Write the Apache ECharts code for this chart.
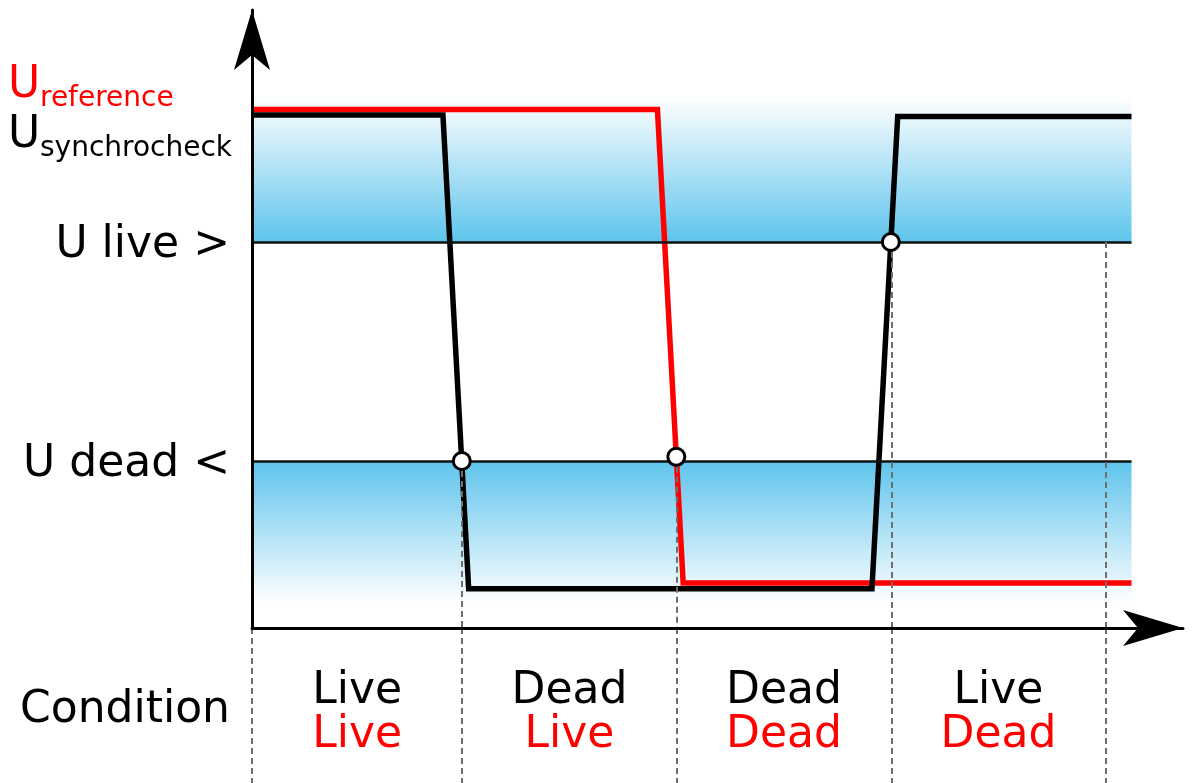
<!DOCTYPE html>
<html>
<head>
<meta charset="utf-8">
<script src="https://cdn.jsdelivr.net/npm/echarts@6/dist/echarts.min.js"></script>
<style>
  html, body { margin: 0; padding: 0; background: #fff; }
  #chart { width: 1192px; height: 783px; }
</style>
</head>
<body>
<div id="chart"></div>
<script>
// time in arbitrary units, voltage in % of nominal
const boundaries = [0, 9.8, 19.8, 29.8, 39.8];
const bandEnd = 41;
const liveLevel = 78.7;
const deadLevel = 34.05;
const bandTop = 108.2;
const bandBottom = 5.1;

const syncCheck = [[0, 104.6], [8.9, 104.6], [10.1, 8.0], [28.9, 8.0], [30.1, 104.3], [41, 104.3]];
const reference = [[0, 105.7], [18.9, 105.7], [20.1, 9.2], [41, 9.2]];
const crossings = [[9.78, 34.05], [19.78, 34.9], [29.78, 78.7]];
// where each dashed divider starts, one per boundary (0 = no part above the axis)
const dividerTops = [0, 34.05, 34.9, 78.7, 78.7];

const levelNames = { [deadLevel]: 'U dead <', [liveLevel]: 'U live >' };
const syncStates = ['Live', 'Dead', 'Dead', 'Live'];
const refStates = ['Live', 'Live', 'Dead', 'Dead'];

const FONT = 'DejaVu Sans';
const BLUE = '#5ec4ec';
const dashStyle = { color: '#6e6e6e', width: 2, type: [6, 4] };

const chart = echarts.init(document.getElementById('chart'));

const upperDividers = boundaries
  .map((x, i) => [{ coord: [x, dividerTops[i]] }, { coord: [x, 0] }])
  .filter((d, i) => dividerTops[i] > 0);
const lowerDividers = boundaries.map(x => [{ coord: [x, 1] }, { coord: [x, 0] }]);

const stateLabels = syncStates.map((s, i) => {
  const mid = (boundaries[i] + boundaries[i + 1]) / 2;
  return { value: [mid, 0.45], name: '{s|' + s + '}\n{r|' + refStates[i] + '}' };
});

const axisArrow = {
  show: true,
  lineStyle: { color: '#000', width: 3 },
  symbol: ['none', 'arrow'],
  symbolSize: [27, 60]
};

const option = {
  animation: false,
  backgroundColor: '#fff',
  grid: [
    { left: 252, right: 9, top: 10, bottom: 155 },
    { left: 252, right: 9, top: 628, bottom: 0 }
  ],
  xAxis: [
    {
      gridIndex: 0, type: 'value', min: 0, max: 43.4, z: 10,
      axisLine: axisArrow,
      axisTick: { show: false }, axisLabel: { show: false }, splitLine: { show: false }
    },
    {
      gridIndex: 1, type: 'value', min: 0, max: 43.4, show: false
    }
  ],
  yAxis: [
    {
      gridIndex: 0, type: 'value', min: 0, max: 126, z: 10,
      axisLine: axisArrow,
      axisTick: { show: false },
      splitLine: { show: false },
      axisLabel: {
        customValues: [deadLevel, liveLevel],
        formatter: v => levelNames[v] || '',
        fontFamily: FONT, fontSize: 44, color: '#000', margin: 22,
        verticalAlign: 'top', lineHeight: 7
      }
    },
    {
      gridIndex: 1, type: 'value', min: 0, max: 1,
      axisLine: { show: false }, axisTick: { show: false }, splitLine: { show: false },
      axisLabel: {
        customValues: [0.4645],
        formatter: () => 'Condition',
        fontFamily: FONT, fontSize: 44, color: '#000', margin: 22
      }
    }
  ],
  graphic: [
    { type: 'text', x: 8, y: 86, style: { text: 'U', font: '44px "DejaVu Sans"', fill: '#ff0000', verticalAlign: 'middle' } },
    { type: 'text', x: 40, y: 99, style: { text: 'reference', font: '28px "DejaVu Sans"', fill: '#ff0000', verticalAlign: 'middle' } },
    { type: 'text', x: 8, y: 136, style: { text: 'U', font: '44px "DejaVu Sans"', fill: '#000', verticalAlign: 'middle' } },
    { type: 'text', x: 40, y: 149, style: { text: 'synchrocheck', font: '28px "DejaVu Sans"', fill: '#000', verticalAlign: 'middle' } }
  ],
  series: [
    {
      // blue bands
      type: 'line', xAxisIndex: 0, yAxisIndex: 0, data: [], z: 1, silent: true,
      markArea: {
        silent: true,
        data: [
          [
            {
              coord: [0, bandTop],
              itemStyle: {
                color: new echarts.graphic.LinearGradient(0, 0, 0, 1, [
                  { offset: 0, color: '#ffffff' },
                  { offset: 1, color: BLUE }
                ])
              }
            },
            { coord: [bandEnd, liveLevel] }
          ],
          [
            {
              coord: [0, deadLevel],
              itemStyle: {
                color: new echarts.graphic.LinearGradient(0, 0, 0, 1, [
                  { offset: 0, color: BLUE },
                  { offset: 1, color: '#ffffff' }
                ])
              }
            },
            { coord: [bandEnd, bandBottom] }
          ]
        ]
      }
    },
    {
      // threshold lines and dividers
      type: 'line', xAxisIndex: 0, yAxisIndex: 0, data: [], z: 2, silent: true,
      markLine: {
        silent: true, symbol: 'none', label: { show: false },
        data: [
          [{ coord: [0, liveLevel], lineStyle: { color: '#111', width: 2.5, type: 'solid' } }, { coord: [bandEnd, liveLevel] }],
          [{ coord: [0, deadLevel], lineStyle: { color: '#111', width: 2.5, type: 'solid' } }, { coord: [bandEnd, deadLevel] }]
        ].concat(upperDividers.map(d => [Object.assign({ lineStyle: dashStyle }, d[0]), d[1]]))
      }
    },
    {
      name: 'U reference', type: 'line', xAxisIndex: 0, yAxisIndex: 0, data: reference, z: 3,
      symbol: 'none', lineStyle: { color: '#ff0000', width: 5.5, join: 'miter' }
    },
    {
      name: 'U synchrocheck', type: 'line', xAxisIndex: 0, yAxisIndex: 0, data: syncCheck, z: 4,
      symbol: 'none', lineStyle: { color: '#000', width: 5.5, join: 'miter' }
    },
    {
      type: 'scatter', xAxisIndex: 0, yAxisIndex: 0, data: crossings, z: 5,
      symbol: 'circle', symbolSize: 17,
      itemStyle: { color: '#fff', borderColor: '#000', borderWidth: 3, opacity: 1 }
    },
    {
      // condition labels below the axis
      type: 'scatter', xAxisIndex: 1, yAxisIndex: 1, data: stateLabels, z: 5,
      symbolSize: 1, itemStyle: { color: '#fff', opacity: 1 },
      label: {
        show: true, position: 'inside', textBorderWidth: 0,
        formatter: p => p.name,
        rich: {
          s: { fontFamily: FONT, fontSize: 44, color: '#000', lineHeight: 44, textBorderWidth: 0 },
          r: { fontFamily: FONT, fontSize: 44, color: '#ff0000', lineHeight: 44, textBorderWidth: 0 }
        }
      },
      markLine: {
        silent: true, symbol: 'none', label: { show: false },
        lineStyle: dashStyle,
        data: lowerDividers
      }
    }
  ]
};

chart.setOption(option);
</script>
</body>
</html>
